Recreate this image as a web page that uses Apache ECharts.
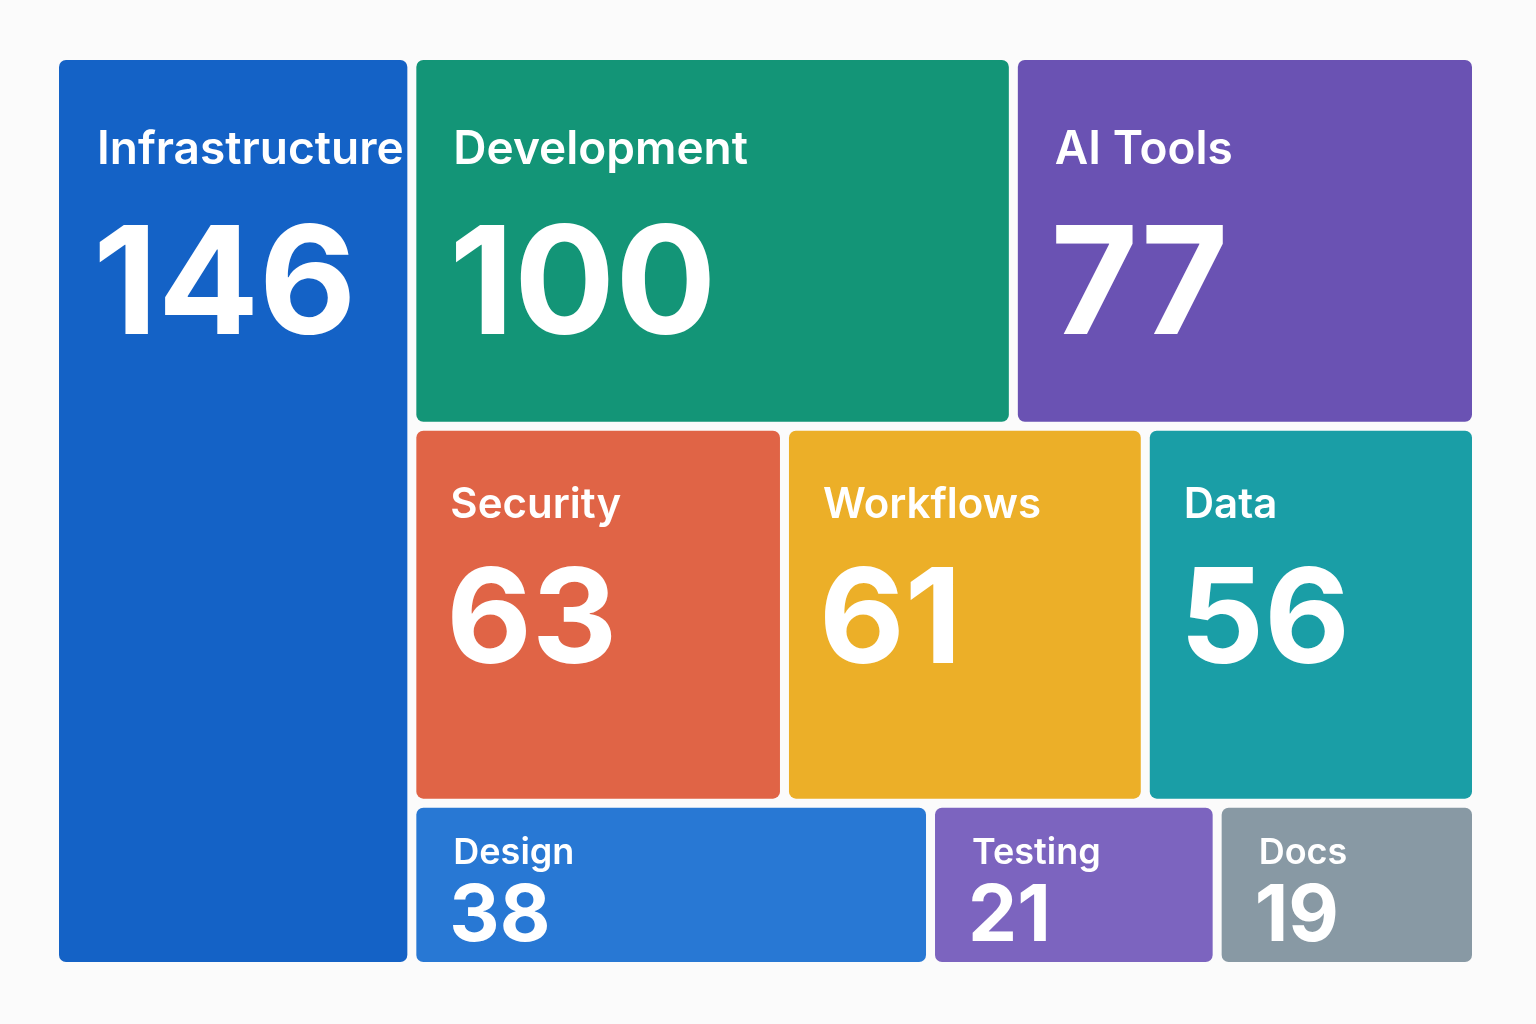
<!DOCTYPE html>
<html>
<head>
<meta charset="utf-8">
<script src="https://cdn.jsdelivr.net/npm/echarts@6/dist/echarts.min.js"></script>
<style>
  html, body { margin: 0; background: #fbfbfb; }
  #main { width: 1536px; height: 1024px; }
</style>
</head>
<body>
<div id="main"></div>
<script>
var names = ['Infrastructure', 'Development', 'AI Tools', 'Security', 'Workflows', 'Data', 'Design', 'Testing', 'Docs'];
var values = [146, 100, 77, 63, 61, 56, 38, 21, 19];
// block of each category: 0 = left column, 1..3 = rows of the right block
var groups = [0, 1, 1, 2, 2, 2, 3, 3, 3];

var colors = ['#1462c6', '#139577', '#6a52b3', '#e06446', '#ecaf28', '#1a9ea6', '#2878d4', '#7c64bf', '#8899a4'];

// label look per block
var levels = [
    { pad: 38, nameSize: 46, nameY: 90, valueSize: 150, valueY: 229 },
    { pad: 37, nameSize: 46, nameY: 90, valueSize: 150, valueY: 229 },
    { pad: 34, nameSize: 42, nameY: 75, valueSize: 132, valueY: 193 },
    { pad: 37, nameSize: 36, nameY: 46, valueSize: 78, valueY: 110 }
];

window.onload = function () {
    var myChart = echarts.init(document.getElementById('main'));

    // slice-and-dice treemap: areas proportional to the values
    var total = 0, sums = [0, 0, 0, 0];
    values.forEach(function (v, i) { total += v; sums[groups[i]] += v; });
    var left = sums[0], rest = total - left;

    var cells = [];
    var rowX = {}, rowY = {};
    values.forEach(function (v, i) {
        var g = groups[i];
        if (g === 0) {
            cells.push([0, left, 0, 1, v, names[i]]);
            return;
        }
        if (rowX[g] === undefined) {
            rowX[g] = left;
            var y0 = 0;
            for (var k = 1; k < g; k++) y0 += sums[k] / rest;
            rowY[g] = y0;
        }
        var h = sums[g] / rest;
        var w = v / sums[g] * rest;
        cells.push([rowX[g], rowX[g] + w, rowY[g], rowY[g] + h, v, names[i]]);
        rowX[g] += w;
    });

    var gap = 9;

    function renderItem(params, api) {
        var i = params.dataIndex;
        var p0 = api.coord([api.value(0), api.value(2)]);
        var p1 = api.coord([api.value(1), api.value(3)]);
        var x = p0[0] + gap / 2, y = p0[1] + gap / 2;
        var w = p1[0] - p0[0] - gap, h = p1[1] - p0[1] - gap;
        var lv = levels[groups[i]];
        return {
            type: 'group',
            children: [{
                type: 'rect',
                shape: { x: x, y: y, width: w, height: h, r: 7 },
                style: { fill: colors[i] }
            }, {
                type: 'text',
                x: x + lv.pad,
                y: y + lv.nameY,
                style: {
                    text: names[i], fill: '#fff',
                    fontFamily: 'Inter', fontWeight: 600, fontSize: lv.nameSize,
                    align: 'left', verticalAlign: 'middle'
                }
            }, {
                type: 'text',
                x: x + lv.pad - 4,
                y: y + lv.valueY,
                style: {
                    text: String(api.value(4)), fill: '#fff',
                    fontFamily: 'Inter', fontWeight: 700, fontSize: lv.valueSize,
                    align: 'left', verticalAlign: 'middle'
                }
            }]
        };
    }

    var option = {
        backgroundColor: '#fbfbfb',
        animation: false,
        grid: { left: 54.5, right: 59.5, top: 55.5, bottom: 57.5 },
        xAxis: { type: 'value', min: 0, max: total, show: false },
        yAxis: { type: 'value', min: 0, max: 1, inverse: true, show: false },
        series: [{
            type: 'custom',
            renderItem: renderItem,
            encode: { x: [0, 1], y: [2, 3] },
            data: cells
        }]
    };
    myChart.setOption(option);
};
</script>
</body>
</html>
